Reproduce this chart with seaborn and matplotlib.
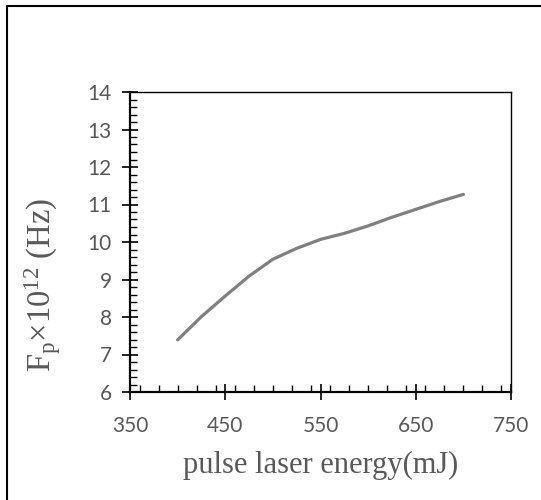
import matplotlib
matplotlib.use("Agg")
import matplotlib.pyplot as plt
import seaborn as sns
import pandas as pd
from matplotlib.lines import Line2D
from matplotlib.ticker import MultipleLocator

# values
energy = [400, 425, 450, 475, 500, 525, 550, 575, 600, 625, 650, 675, 700]
fp = [7.39, 8.01, 8.56, 9.09, 9.54, 9.83, 10.07, 10.23, 10.43, 10.66, 10.87, 11.08, 11.27]
x_ticks = [350, 450, 550, 650, 750]
y_ticks = [6, 7, 8, 9, 10, 11, 12, 13, 14]

df = pd.DataFrame({"energy": energy, "fp": fp})

sns.set_style("white")
plt.rcParams["font.family"] = ["Lato", "DejaVu Sans"]
plt.rcParams["mathtext.fontset"] = "custom"
plt.rcParams["mathtext.rm"] = "Liberation Serif"
plt.rcParams["mathtext.it"] = "Liberation Serif:italic"

fig = plt.figure(figsize=(5.41, 5.0), dpi=100)
ax = fig.add_axes([130 / 541, 1 - 392 / 500, (511 - 130) / 541, (392 - 92) / 500])

sns.lineplot(data=df, x="energy", y="fp", ax=ax, color="#808080", linewidth=2.3)

ax.set_xlim(350, 750)
ax.set_ylim(6, 14)
ax.set_xticks(x_ticks)
ax.set_yticks(y_ticks)
ax.xaxis.set_minor_locator(MultipleLocator(20))
ax.yaxis.set_minor_locator(MultipleLocator(0.2))

tc = "#595959"
ax.tick_params(axis="both", which="both", bottom=True, left=True, top=False, right=False)
ax.tick_params(axis="both", which="major", direction="inout", length=12, width=1.2,
               color="black", labelcolor=tc, labelsize=15)
ax.tick_params(axis="both", which="minor", direction="in", length=5, width=1.0, color="black")
ax.tick_params(axis="y", which="major", pad=7)
ax.tick_params(axis="x", which="major", pad=11)

for s in ["left", "bottom"]:
    ax.spines[s].set_linewidth(1.6)
    ax.spines[s].set_color("black")
for s in ["top", "right"]:
    ax.spines[s].set_linewidth(1.0)
    ax.spines[s].set_color("black")

ax.set_xlabel("pulse laser energy(mJ)", family="Liberation Serif", fontsize=22, color=tc, labelpad=11)
ax.set_ylabel(r"F$_\mathregular{p}$×10$^\mathregular{12}$ (Hz)", family="Liberation Serif",
              fontsize=23.5, color=tc)
ax.yaxis.set_label_coords(-0.175, 0.357)

# outer frame (left and top edges visible)
fig.add_artist(Line2D([7 / 541, 7 / 541], [0, 1 - 6 / 500], transform=fig.transFigure,
                      color="black", linewidth=1.5))
fig.add_artist(Line2D([7 / 541, 1], [1 - 6 / 500, 1 - 6 / 500], transform=fig.transFigure,
                      color="black", linewidth=1.5))

fig.savefig("out.png", dpi=100)
